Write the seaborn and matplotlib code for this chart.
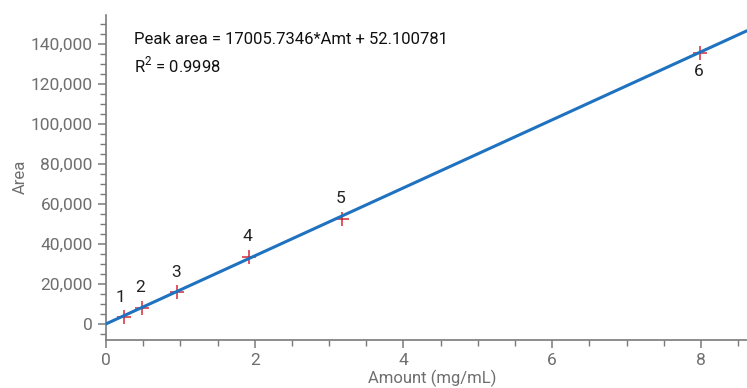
import numpy as np
import pandas as pd
import matplotlib
matplotlib.use("Agg")
import matplotlib.pyplot as plt
import seaborn as sns
from matplotlib.ticker import MultipleLocator, FuncFormatter

# Data
levels = ["1", "2", "3", "4", "5", "6"]
amount = [0.24, 0.48, 0.96, 1.92, 3.18, 7.99]
area = [3700, 8200, 15900, 33600, 52300, 135400]
slope = 17005.7346
intercept = 52.100781
eq_text = "Peak area = 17005.7346*Amt + 52.100781"
r2_text = "R$^2$ = 0.9998"

sns.set_theme(style="white")
fam = ["Roboto", "DejaVu Sans"]
plt.rcParams['font.family'] = fam
plt.rcParams['mathtext.fontset'] = 'custom'
plt.rcParams['mathtext.rm'] = 'Roboto'

fig = plt.figure(figsize=(7.47, 3.88), dpi=100)
ax = fig.add_axes([0.1419, 0.1237, 0.8581, 0.8376])

xmax = 8.62
fit_x = [0.0, xmax]
fit_df = pd.DataFrame({"x": fit_x, "y": [slope * v + intercept for v in fit_x]})
pts = pd.DataFrame({"Amount": amount, "Area": area, "Level": levels})

sns.scatterplot(data=pts, x="Amount", y="Area", marker="+", s=110, color="#d42a35",
                linewidth=1.1, ax=ax, zorder=2)
sns.lineplot(data=fit_df, x="x", y="y", color="#1f72c0", linewidth=2.2, ax=ax, zorder=3)

offsets = [(-3, 19), (-2, 20), (-1, 20), (-1, 20), (-2, 21), (-1, -18)]
for (lx, ly, lab), (dx, dy) in zip(zip(amount, area, levels), offsets):
    ax.annotate(lab, (lx, ly), xytext=(dx * 0.72, dy * 0.72), textcoords="offset points",
                ha="center", va="center", fontsize=12.5, color="#222222", family=fam)

ax.text(134 / 747, 1 - 40 / 388, eq_text, transform=fig.transFigure, fontsize=12,
        color="#111111", va="center", ha="left", family=fam)
ax.text(134 / 747, 1 - 65 / 388, r2_text, transform=fig.transFigure, fontsize=12,
        color="#111111", va="center", ha="left", family=fam)

ax.set_xlim(0, xmax)
ax.set_ylim(-8000, 154500)
ax.xaxis.set_major_locator(MultipleLocator(2))
ax.xaxis.set_minor_locator(MultipleLocator(0.5))
ax.yaxis.set_major_locator(MultipleLocator(20000))
ax.yaxis.set_minor_locator(MultipleLocator(5000))
ax.yaxis.set_major_formatter(FuncFormatter(lambda v, p: f"{int(v):,}"))

for s in ["top", "right"]:
    ax.spines[s].set_visible(False)
for s in ["left", "bottom"]:
    ax.spines[s].set_color("#7a7a7a")
    ax.spines[s].set_linewidth(1.2)

ax.tick_params(axis="both", which="major", direction="out", length=6, width=1.1,
               color="#7a7a7a", labelcolor="#6e6e6e", labelsize=12.5)
ax.tick_params(axis="both", which="minor", direction="out", length=4, width=1.0,
               color="#7a7a7a")
ax.tick_params(axis="x", which="both", bottom=True)
ax.tick_params(axis="y", which="both", left=True)
for lab in ax.get_xticklabels() + ax.get_yticklabels():
    lab.set_family(fam)

ax.set_xlabel("Amount (mg/mL)", fontsize=12, color="#6e6e6e", family=fam)
ax.set_ylabel("Area", fontsize=12, color="#6e6e6e", family=fam)
ax.xaxis.set_label_coords((432 - 106) / (0.8581 * 747), -(378 - 340) / 325.0)
ax.xaxis.label.set_va("center")
ax.yaxis.set_label_coords(-(106 - 20) / (0.8581 * 747), (340 - 177) / 325.0)
ax.yaxis.label.set_va("center")

fig.savefig("out.png", dpi=100)
